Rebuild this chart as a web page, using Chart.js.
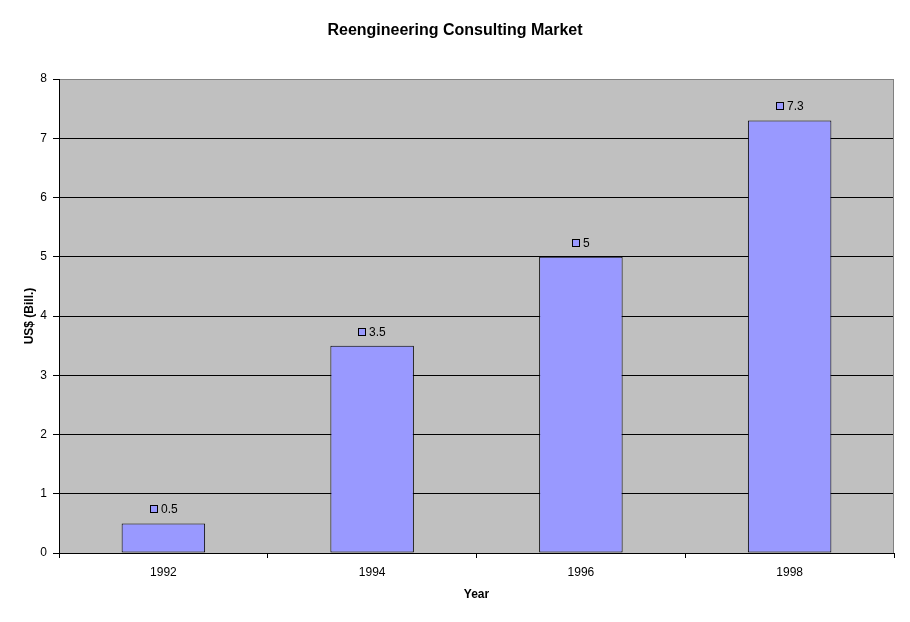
<!DOCTYPE html>
<html>
<head>
<meta charset="utf-8">
<script src="https://cdn.jsdelivr.net/npm/chart.js@4/dist/chart.umd.min.js"></script>
<style>
  html, body { margin: 0; padding: 0; background: #fff; }
  #wrap { width: 910px; height: 622px; }
</style>
</head>
<body>
<div id="wrap"><canvas id="chart" width="910" height="622"></canvas></div>
<script>
// data
const years = ['1992', '1994', '1996', '1998'];
const marketValues = [0.5, 3.5, 5, 7.3];
const yTicks = [0, 1, 2, 3, 4, 5, 6, 7, 8];

const barFill = '#9999FF';
const fontFamily = 'Arial, "Liberation Sans", sans-serif';

// white page + grey plot area, grey right border
const plotBackground = {
  id: 'plotBackground',
  beforeDraw(chart) {
    const { ctx, chartArea: a } = chart;
    ctx.save();
    ctx.fillStyle = '#fff';
    ctx.fillRect(0, 0, chart.width, chart.height);
    ctx.fillStyle = '#C0C0C0';
    ctx.fillRect(a.left, a.top, a.right - a.left, a.bottom - a.top);
    ctx.restore();
  },
  beforeDatasetsDraw(chart) {
    const { ctx, chartArea: a } = chart;
    ctx.save();
    ctx.strokeStyle = '#808080';
    ctx.lineWidth = 1;
    ctx.beginPath();
    ctx.moveTo(a.right - 0.5, a.top);
    ctx.lineTo(a.right - 0.5, a.bottom);
    ctx.stroke();
    ctx.restore();
  }
};

// value labels with a small legend key in front
const valueLabels = {
  id: 'valueLabels',
  afterDatasetsDraw(chart) {
    const { ctx } = chart;
    const meta = chart.getDatasetMeta(0);
    ctx.save();
    ctx.font = '12px ' + fontFamily;
    ctx.textBaseline = 'middle';
    ctx.textAlign = 'left';
    meta.data.forEach((bar, i) => {
      const text = String(marketValues[i]);
      const tw = ctx.measureText(text).width;
      const key = 8, gap = 3;
      const total = key + gap + tw;
      const x0 = Math.round(bar.x - total / 2);
      const yc = Math.round(bar.y - 14);
      ctx.fillStyle = barFill;
      ctx.fillRect(x0, yc - 4, key, key);
      ctx.strokeStyle = '#000';
      ctx.lineWidth = 1;
      ctx.strokeRect(x0 + 0.5, yc - 3.5, key - 1, key - 1);
      ctx.fillStyle = '#000';
      ctx.fillText(text, x0 + key + gap, yc + 1);
    });
    ctx.restore();
  }
};

new Chart(document.getElementById('chart'), {
  type: 'bar',
  data: {
    labels: years,
    datasets: [{
      label: 'US$ (Bill.)',
      data: marketValues,
      backgroundColor: barFill,
      borderColor: '#000',
      borderWidth: 1,
      borderSkipped: false,
      categoryPercentage: 1,
      barPercentage: 0.4
    }]
  },
  options: {
    responsive: false,
    animation: false,
    layout: { padding: 0 },
    plugins: {
      legend: { display: false },
      tooltip: { enabled: false },
      title: {
        display: true,
        text: 'Reengineering Consulting Market',
        color: '#000',
        font: { family: fontFamily, size: 16, weight: 'bold' },
        padding: { top: 21.4, bottom: 38.4 }
      }
    },
    scales: {
      x: {
        afterFit(scale) { scale.height = 69; },
        grid: {
          display: true,
          offset: true,
          drawOnChartArea: false,
          drawTicks: true,
          tickLength: 5,
          tickColor: '#000'
        },
        border: { display: true, color: '#000', width: 1 },
        ticks: {
          color: '#000',
          padding: 7,
          font: { family: fontFamily, size: 12 }
        },
        title: {
          display: true,
          text: 'Year',
          color: '#000',
          font: { family: fontFamily, size: 12, weight: 'bold' },
          padding: { top: 0, bottom: 19.8 }
        }
      },
      y: {
        min: 0,
        max: 8,
        afterFit(scale) { scale.width = 59; },
        afterBuildTicks(scale) { scale.ticks = yTicks.map(v => ({ value: v })); },
        grid: {
          color: ctx => (ctx.tick && ctx.tick.value === 8 ? '#808080' : '#000'),
          tickColor: '#000',
          tickLength: 6,
          lineWidth: 1
        },
        border: { display: true, color: '#000', width: 1 },
        ticks: {
          color: '#000',
          padding: 6,
          font: { family: fontFamily, size: 12 }
        },
        title: {
          display: true,
          text: 'US$ (Bill.)',
          color: '#000',
          font: { family: fontFamily, size: 12, weight: 'bold' },
          padding: { top: 22.8, bottom: 0 }
        }
      },
      // empty right strip so the title stays centred on the page
      yRight: {
        position: 'right',
        display: true,
        afterFit(scale) { scale.width = 16; },
        grid: { display: false, drawTicks: false },
        border: { display: false },
        ticks: { display: false }
      }
    }
  },
  plugins: [plotBackground, valueLabels]
});
</script>
</body>
</html>
